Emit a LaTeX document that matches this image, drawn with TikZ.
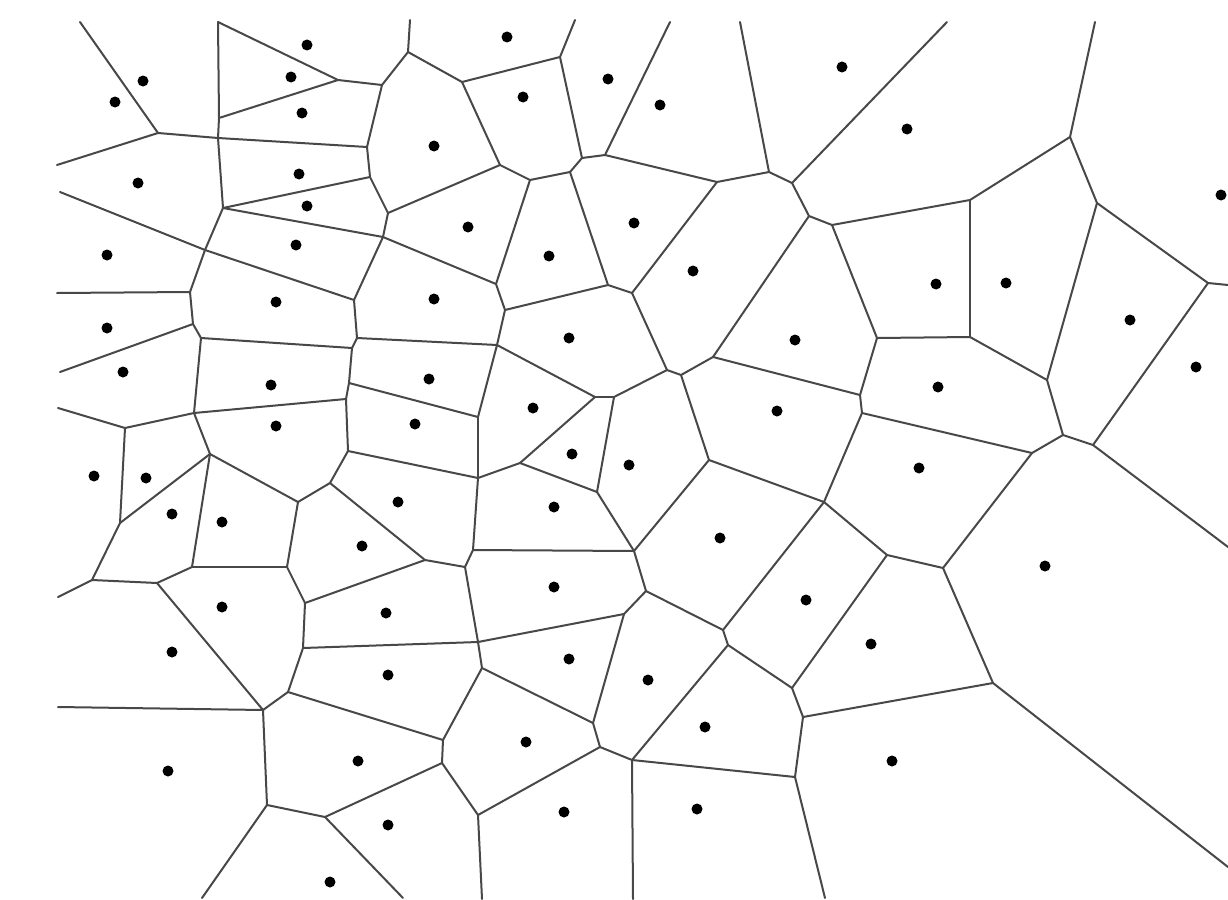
\documentclass[tikz,border=0pt]{standalone}
\begin{document}
\begin{tikzpicture}[x=1pt,y=-1pt,
  vedge/.style={draw={rgb,255:red,72;green,72;blue,72}, line width=2pt, line cap=round, line join=round},
  site/.style={circle, fill=black, inner sep=0pt, minimum size=11pt}]
\useasboundingbox[fill=white] (0,0) rectangle (1228,899);
% boundary ends
\foreach \n/\x/\y in {T1/80/22,T2/218/22,T3/410/20,T4/575/20,T5/670/22,T6/740/22,T7/947/22,T8/1095/22,
  L1/57/165,L2/60/192,L3/57/293,L4/60/372,L5/58/408,L6/58/597,L7/58/707,
  R1/1228/285,R2/1228/547,R3/1228/867,
  B1/202/898,B2/403/898,B3/482/899,B4/633/899,B5/825/898}
  \coordinate (\n) at (\x,\y);
% inner vertices, left part
\foreach \n/\x/\y in {a1/158/133,a2/218/138,a3/219/118,a4/338/80,a5/382/85,a6/408/52,a7/367/147,a8/370/177,
  a9/223/208,a10/388/213,a11/383/237,a12/205/250,a13/354/300,a14/190/292,a15/193/324,a16/201/338,
  a17/352/348,a18/357/338,a19/349/383,a20/346/399,a21/348/451,a22/194/413,a23/125/428,a24/210/454,
  a25/120/523,a26/298/502,a27/330/483,a28/92/580,a29/157/583,a30/192/567,a31/287/567,a32/305/603,
  a33/303/648,a34/288/692,a35/263/710,a36/267/805,a37/325/817}
  \coordinate (\n) at (\x,\y);
% inner vertices, middle part
\foreach \n/\x/\y in {b1/462/82,b2/560/57,b3/582/158,b4/500/165,b5/530/180,b6/570/172,b7/605/155,b8/717/182,
  b9/769/172,b10/792/183,b11/809/216,b12/832/225,b13/496/284,b14/505/310,b15/608/285,b16/632/293,
  b17/497/345,b18/595/397,b19/614/397,b20/667/370,b21/681/375,b22/713/357,b23/478/417,b24/478/478,
  b25/520/463,b26/597/492,b27/709/460,b28/634/551,b29/473/550,b30/465/567,b31/425/560,b32/646/591,
  b33/723/630,b34/728/645,b35/824/502,b36/792/688,b37/803/717,b38/795/777,b39/632/760,b40/600/747,
  b41/593/723,b42/624/614,b43/478/642,b44/482/668,b45/443/740,b46/442/763,b47/478/815}
  \coordinate (\n) at (\x,\y);
% inner vertices, right part
\foreach \n/\x/\y in {c1/970/200,c2/1070/137,c3/1097/203,c4/1208/283,c5/1047/380,c6/970/337,c7/877/338,
  c8/1063/435,c9/1093/445,c10/1032/453,c11/860/395,c12/862/413,c13/887/555,c14/943/568,c15/993/683}
  \coordinate (\n) at (\x,\y);
% edges
\foreach \u/\v in {T1/a1,a1/L1,a1/a2,T2/a3,a3/a2,a2/a9,T2/a4,a3/a4,a4/a5,a5/a6,a6/T3,a5/a7,a2/a7,a7/a8,
  a8/a9,a8/a10,a10/b4,a10/a11,a11/b13,a9/a11,a11/a13,a9/a12,L2/a12,a12/a13,a12/a14,L3/a14,a14/a15,
  a15/L4,a15/a16,a16/a17,a13/a18,a18/b17,a18/a17,a17/a19,a19/a20,a20/a21,a19/b23,a16/a22,a22/a20,
  a22/a23,a23/L5,a23/a25,a22/a24,a21/b24,a24/a25,a24/a26,a26/a27,a27/a21,a27/b31,a24/a30,a25/a28,
  a28/L6,a28/a29,a29/a30,a30/a31,a26/a31,a31/a32,a32/b31,a32/a33,a33/b43,a33/a34,a34/b45,a34/a35,
  a29/a35,L7/a35,a35/a36,a36/a37,a37/b46,a37/B2,a36/B1}
  \draw[vedge] (\u) -- (\v);
\foreach \u/\v in {a6/b1,b1/b2,b2/T4,b2/b3,b1/b4,b4/b5,b5/b6,b6/b3,b3/b7,b7/T5,b7/b8,b8/b9,b9/T6,
  b9/b10,b10/T7,b10/b11,b11/b12,b8/b16,b11/b22,b5/b13,b6/b15,b13/b14,b14/b15,b15/b16,b16/b20,
  b14/b17,b17/b18,b18/b19,b19/b20,b20/b21,b21/b22,b22/c11,b21/b27,b17/b23,b23/b24,b18/b25,b19/b26,
  b24/b25,b25/b26,b26/b28,b28/b27,b27/b35,b24/b29,b29/b28,b28/b32,b32/b33,b33/b35,b33/b34,b34/b36,
  b36/c13,b36/b37,b37/c15,b37/b38,b38/B5,b34/b39,b39/b38,b39/B4,b39/b40,b40/b41,b41/b42,b42/b32,
  b42/b43,b29/b30,b31/b30,b30/b43,b43/b44,b44/b41,b44/b45,b45/b46,b46/b47,b47/b40,b47/B3}
  \draw[vedge] (\u) -- (\v);
\foreach \u/\v in {b12/c1,c1/c2,c2/T8,c2/c3,c3/c4,c4/R1,c3/c5,c1/c6,b12/c7,c7/c6,c6/c5,c5/c8,c8/c9,
  c9/R2,c8/c10,c7/c11,c11/c12,c12/c10,c12/b35,b35/c13,c13/c14,c14/c10,c14/c15,c15/R3,c9/c4}
  \draw[vedge] (\u) -- (\v);
% sites
\foreach \x/\y [count=\i] in {307/45,507/37,143/81,291/77,115/102,608/79,523/97,660/105,302/113,842/67,
  907/129,434/146,138/183,299/174,307/206,1221/195,468/227,634/223,107/255,296/245,549/256,693/271,
  936/284,1006/283,276/302,434/299,107/328,1130/320,569/338,795/340,1196/367,123/372,271/385,429/379,
  938/387,533/408,777/411,276/426,415/424,94/476,146/478,572/454,629/465,919/468,172/514,222/522,
  398/502,554/507,720/538,362/546,1045/566,554/587,222/607,806/600,386/613,172/652,871/644,569/659,
  388/675,648/680,705/727,526/742,358/761,168/771,892/761,388/825,564/812,697/809,330/882}
  \node[site] (s\i) at (\x,\y) {};
\end{tikzpicture}
\end{document}
